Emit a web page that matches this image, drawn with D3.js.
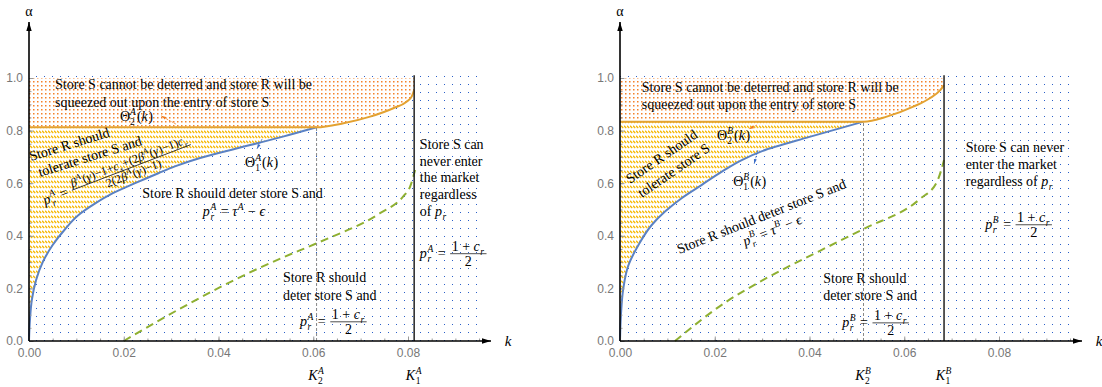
<!DOCTYPE html>
<html>
<head>
<meta charset="utf-8">
<script src="https://cdn.jsdelivr.net/npm/d3@7"></script>
<style>
  body { margin: 0; background: #fff; }
  svg { display: block; }
</style>
</head>
<body>
<div id="chart-area"></div>
<script>
// tick labels
const kTicks = [0, 0.02, 0.04, 0.06, 0.08];
const alphaTicks = [0, 0.2, 0.4, 0.6, 0.8, 1.0];

// panel A, [k, alpha] pairs
const theta1A = [[0, 0], [0.0002, 0.08], [0.0006, 0.156], [0.0015, 0.232], [0.0029, 0.30], [0.005, 0.365],
  [0.0076, 0.425], [0.0104, 0.478], [0.0139, 0.522], [0.0175, 0.56], [0.0224, 0.60], [0.0273, 0.638],
  [0.0308, 0.664], [0.0361, 0.696], [0.0467, 0.745], [0.0536, 0.777], [0.0607, 0.8125]];
const theta2A = [[0, 0.8125], [0.0607, 0.8125], [0.0664, 0.828], [0.072, 0.853], [0.0769, 0.885],
  [0.0797, 0.91], [0.0808, 0.93], [0.0813, 0.954]];
const greenA = [[0.02, 0], [0.0336, 0.14], [0.0477, 0.27], [0.0534, 0.316], [0.0613, 0.376],
  [0.074, 0.485], [0.079, 0.55], [0.0804, 0.585], [0.0815, 0.65]];
const kA = [0.0607, 0.0813]; // K2, K1

// panel B
const theta1B = [[0, 0], [0.0002, 0.099], [0.0007, 0.2], [0.0018, 0.289], [0.0039, 0.365], [0.0067, 0.441],
  [0.0095, 0.492], [0.013, 0.543], [0.0172, 0.593], [0.0215, 0.644], [0.0257, 0.688], [0.03, 0.722],
  [0.04, 0.776], [0.0514, 0.834]];
const theta2B = [[0, 0.834], [0.0514, 0.834], [0.0563, 0.853], [0.0619, 0.891], [0.0654, 0.923],
  [0.0676, 0.954], [0.0684, 0.973]];
const greenB = [[0.0116, 0], [0.0225, 0.15], [0.0296, 0.226], [0.0422, 0.343], [0.0514, 0.426],
  [0.0633, 0.54], [0.0669, 0.605], [0.0684, 0.688]];
const kB = [0.0514, 0.0684];

const W = 1102, H = 387;
const svg = d3.select("#chart-area").append("svg")
  .attr("width", W).attr("height", H)
  .style("font-family", "'Liberation Serif', 'Times New Roman', serif");

const defs = svg.append("defs");

// dotted / hatched fills
let p = defs.append("pattern").attr("id", "dotsBlue").attr("patternUnits", "userSpaceOnUse")
  .attr("width", 8).attr("height", 8);
p.append("rect").attr("x", 4).attr("y", 4).attr("width", 1).attr("height", 1).attr("fill", "#2a5fc9");

p = defs.append("pattern").attr("id", "dotsOrange").attr("patternUnits", "userSpaceOnUse")
  .attr("width", 4).attr("height", 4);
p.append("rect").attr("width", 4).attr("height", 4).attr("fill", "#fff");
p.append("rect").attr("x", 1).attr("y", 1).attr("width", 1.5).attr("height", 1.5).attr("fill", "#f4822a");

p = defs.append("pattern").attr("id", "hatchYellow").attr("patternUnits", "userSpaceOnUse")
  .attr("width", 3).attr("height", 5);
p.append("rect").attr("width", 3).attr("height", 5).attr("fill", "#fff");
p.append("path").attr("d", "M0,0.8L2.2,3").attr("stroke", "#f6b700").attr("stroke-width", 1.3);

function marker(id, color, w, h) {
  defs.append("marker").attr("id", id).attr("viewBox", "0 0 10 6")
    .attr("refX", 10).attr("refY", 3).attr("markerWidth", w).attr("markerHeight", h)
    .attr("markerUnits", "userSpaceOnUse").attr("orient", "auto")
    .append("path").attr("d", "M0,0L10,3L0,6z").attr("fill", color);
}
marker("axArrow", "#000", 9, 5.4);
marker("arrO", "#f07a1c", 5, 3.5);
marker("arrB", "#3f6fc7", 5, 3.5);

// ---- little math typesetter: lays pieces left to right, returns width
function put(g, str, x, y, size, italic) {
  const t = g.append("text").attr("x", x).attr("y", y)
    .style("font-size", size + "px")
    .style("font-style", italic ? "italic" : "normal")
    .text(str);
  return t.node().getComputedTextLength();
}

function row(g, parts, size) {
  let x = 0;
  parts.forEach(d => {
    if (typeof d === "string") {
      x += put(g, d, x, 0, size, false);
    } else if (d.i) {
      x += put(g, d.i, x, 0, size, true) + size * 0.04;
    } else if (d.num) {
      const fs = d.fs || size;
      const gn = g.append("g"), gd = g.append("g");
      const wn = row(gn, d.num, fs), wd = row(gd, d.den, fs);
      const w = Math.max(wn, wd) + 3;
      const ax = -size * 0.3;
      gn.attr("transform", `translate(${x + 1 + (w - wn) / 2},${ax - fs * 0.22})`);
      gd.attr("transform", `translate(${x + 1 + (w - wd) / 2},${ax + fs * 0.85})`);
      g.append("line").attr("x1", x + 1).attr("x2", x + 1 + w).attr("y1", ax).attr("y2", ax)
        .attr("stroke", "#222").attr("stroke-width", 0.8);
      x += w + 3;
    } else {
      const s = size * 0.68;
      const w1 = d.sub ? put(g, d.sub, x, size * 0.3, s, /[A-Za-z]/.test(d.sub)) : 0;
      const w2 = d.sup ? put(g, d.sup, x, -size * 0.42, s, /[A-Za-z]/.test(d.sup)) : 0;
      x += Math.max(w1, w2) + 1;
    }
  });
  return x;
}

function math(parent, x, y, parts, size, anchor, rot) {
  const g = parent.append("g").attr("transform", `translate(${x},${y}) rotate(${rot || 0})`);
  const inner = g.append("g");
  const w = row(inner, parts, size);
  if (anchor === "middle") inner.attr("transform", `translate(${-w / 2},0)`);
  return g;
}

function lines(parent, x, y, arr, size, dy, rot) {
  arr.forEach((s, i) => {
    parent.append("text")
      .attr("transform", `translate(${x},${y + i * dy}) rotate(${rot || 0})`)
      .style("font-size", size + "px").text(s);
  });
}

const NB = "\u00a0";
const pr = tag => [{ i: "p" }, { sub: "r", sup: tag }];
const half = { num: ["1" + NB + "+" + NB, { i: "c" }, { sub: "r" }], den: ["2"], fs: 14 };

// ---- one panel
function panel(x0, tag, th1, th2, grn, ks) {
  const [k2, k1] = ks;
  const lvl = th2[0][1];
  const x = d3.scaleLinear().domain([0, 0.08]).range([x0, x0 + 379]);
  const y = d3.scaleLinear().domain([0, 1]).range([341, 78]);
  const g = svg.append("g");
  const kEnd = 0.095;

  // blue dots everywhere in the plot
  g.append("rect")
    .attr("x", x(0)).attr("y", y(1.008))
    .attr("width", x(kEnd) - x(0)).attr("height", y(0) - y(1.008))
    .attr("fill", "url(#dotsBlue)");

  // yellow hatch: left of theta1, below the theta2 level
  g.append("path").datum(th1)
    .attr("d", d3.area().y(d => y(d[1])).x0(x(0)).x1(d => x(d[0])).curve(d3.curveMonotoneY))
    .attr("fill", "url(#hatchYellow)");

  // orange dots above theta2
  g.append("path").datum(th2)
    .attr("d", d3.area().x(d => x(d[0])).y0(d => y(d[1])).y1(y(1)).curve(d3.curveMonotoneX))
    .attr("fill", "url(#dotsOrange)");

  const lineX = d3.line().x(d => x(d[0])).y(d => y(d[1])).curve(d3.curveMonotoneX);
  const lineY = d3.line().x(d => x(d[0])).y(d => y(d[1])).curve(d3.curveMonotoneY);

  g.append("path").datum(grn).attr("d", lineX)
    .attr("fill", "none").attr("stroke", "#8fb032").attr("stroke-width", 2)
    .attr("stroke-dasharray", "8,5");

  g.append("path").datum(th1).attr("d", lineY)
    .attr("fill", "none").attr("stroke", "#5b82c4").attr("stroke-width", 2);

  g.append("path").datum(th2).attr("d", lineX)
    .attr("fill", "none").attr("stroke", "#e3a232").attr("stroke-width", 2);

  // K2 grey dashed, K1 black
  g.append("line").attr("x1", x(k2)).attr("x2", x(k2)).attr("y1", y(0)).attr("y2", y(lvl))
    .attr("stroke", "#888").attr("stroke-width", 1).attr("stroke-dasharray", "3,2");
  g.append("line").attr("x1", x(k1)).attr("x2", x(k1)).attr("y1", y(0)).attr("y2", y(1.01))
    .attr("stroke", "#222").attr("stroke-width", 1.5);

  // axes
  const styleAxis = a => {
    a.select(".domain").remove();
    a.selectAll("line").attr("stroke", "#999");
    a.selectAll("text").attr("fill", "#777")
      .style("font-family", "'Liberation Sans', Arial, sans-serif").style("font-size", "12px");
  };
  g.append("g").attr("transform", `translate(0,${y(0)})`)
    .call(d3.axisBottom(x).tickValues(d3.range(0, 0.0951, 0.005)).tickSize(-2.5).tickFormat(""))
    .call(styleAxis);
  g.append("g").attr("transform", `translate(0,${y(0)})`)
    .call(d3.axisBottom(x).tickValues(kTicks).tickSize(-4.5).tickPadding(7).tickFormat(d3.format(".2f")))
    .call(styleAxis);
  g.append("g").attr("transform", `translate(${x(0)},0)`)
    .call(d3.axisLeft(y).tickValues(d3.range(0, 1.001, 0.05)).tickSize(-2.5).tickFormat(""))
    .call(styleAxis);
  g.append("g").attr("transform", `translate(${x(0)},0)`)
    .call(d3.axisLeft(y).tickValues(alphaTicks).tickSize(-4.5).tickPadding(6).tickFormat(d3.format(".1f")))
    .call(styleAxis);

  g.append("line").attr("x1", x(0)).attr("x2", x(0) + 462).attr("y1", y(0)).attr("y2", y(0))
    .attr("stroke", "#000").attr("stroke-width", 1.6).attr("marker-end", "url(#axArrow)");
  g.append("line").attr("x1", x(0)).attr("x2", x(0)).attr("y1", y(0)).attr("y2", 22)
    .attr("stroke", "#000").attr("stroke-width", 1.6).attr("marker-end", "url(#axArrow)");

  g.append("text").attr("x", x(0)).attr("y", 16).attr("text-anchor", "middle")
    .style("font-size", "14px").text("α");
  g.append("text").attr("x", x(0) + 479).attr("y", y(0) + 5).attr("text-anchor", "middle")
    .style("font-size", "15px").style("font-style", "italic").text("k");

  math(g, x(k2), y(0) + 39, [{ i: "K" }, { sub: "2", sup: tag }], 14, "middle");
  math(g, x(k1), y(0) + 39, [{ i: "K" }, { sub: "1", sup: tag }], 14, "middle");

  return { g, x, y };
}

// ---------- panel A
{
  const { g, x, y } = panel(29, "A", theta1A, theta2A, greenA, kA);
  lines(g, x(0.0055), y(0.957), ["Store S cannot be deterred and store R will be",
    "squeezed out upon the entry of store S"], 14, 17.5);
  math(g, x(0.0192), y(0.837), ["Θ", { sub: "2", sup: "A" }, "(", { i: "k" }, ")"], 14);
  g.append("line").attr("x1", x(0.031)).attr("y1", y(0.825)).attr("x2", x(0.0279)).attr("y2", y(0.856))
    .attr("stroke", "#f07a1c").attr("stroke-width", 0.8).attr("stroke-dasharray", "2,1")
    .attr("marker-end", "url(#arrO)");
  math(g, x(0.0456), y(0.662), ["Θ", { sub: "1", sup: "A" }, "(", { i: "k" }, ")"], 14);
  g.append("line").attr("x1", x(0.0492)).attr("y1", y(0.768)).attr("x2", x(0.0481)).attr("y2", y(0.73))
    .attr("stroke", "#3f6fc7").attr("stroke-width", 0.8).attr("stroke-dasharray", "2,1")
    .attr("marker-end", "url(#arrB)");

  lines(g, x(0.0004), y(0.684), ["Store R should"], 14, 0, -17.3);
  lines(g, x(0.0023), y(0.624), ["tolerate store S and"], 14, 0, -17.3);
  math(g, x(0.0034), y(0.517), [...pr("A"), NB + "=" + NB, {
    num: [{ i: "β" }, { sup: "A" }, "(", { i: "γ" }, ")−1+", { i: "c" }, { sub: "s" }, "+(2",
      { i: "β" }, { sup: "A" }, "(", { i: "γ" }, ")−1)", { i: "c" }, { sub: "r" }],
    den: ["2(2", { i: "β" }, { sup: "A" }, "(", { i: "γ" }, ")−1)"], fs: 12
  }], 14, "start", -21);

  lines(g, x(0.0239), y(0.544), ["Store R should deter store S and"], 14, 0);
  math(g, x(0.0367), y(0.475), [...pr("A"), NB + "=" + NB, { i: "τ" }, { sup: "A" }, NB + "−" + NB, { i: "ϵ" }], 14);

  lines(g, x(0.0825), y(0.73), ["Store S can", "never enter", "the market", "regardless"], 14, 16.7);
  math(g, x(0.0825), y(0.475), ["of" + NB, ...pr("")], 14);
  math(g, x(0.0825), y(0.316), [...pr("A"), NB + "=" + NB, half], 14);

  lines(g, x(0.0536), y(0.224), ["Store R should", "deter store S and"], 14, 18);
  math(g, x(0.0572), y(0.057), [...pr("A"), NB + "=" + NB, half], 14);
}

// ---------- panel B
{
  const { g, x, y } = panel(620, "B", theta1B, theta2B, greenB, kB);
  lines(g, x(0.0046), y(0.945), ["Store S cannot be deterred and store R will be",
    "squeezed out upon the entry of store S"], 14, 16.5);
  math(g, x(0.0205), y(0.764), ["Θ", { sub: "2", sup: "B" }, "(", { i: "k" }, ")"], 14);
  g.append("line").attr("x1", x(0.0289)).attr("y1", y(0.821)).attr("x2", x(0.0272)).attr("y2", y(0.806))
    .attr("stroke", "#f07a1c").attr("stroke-width", 0.8).attr("stroke-dasharray", "2,1")
    .attr("marker-end", "url(#arrO)");
  math(g, x(0.0239), y(0.589), ["Θ", { sub: "1", sup: "B" }, "(", { i: "k" }, ")"], 14);
  g.append("line").attr("x1", x(0.0291)).attr("y1", y(0.726)).attr("x2", x(0.0283)).attr("y2", y(0.673))
    .attr("stroke", "#3f6fc7").attr("stroke-width", 0.8).attr("stroke-dasharray", "2,1")
    .attr("marker-end", "url(#arrB)");

  lines(g, x(0.0021), y(0.597), ["Store R should"], 14, 0, -34.5);
  lines(g, x(0.0046), y(0.544), ["tolerate store S"], 14, 0, -34.5);

  lines(g, x(0.0125), y(0.331), ["Store R should deter store S and"], 14, 0, -21.6);
  math(g, x(0.0264), y(0.361), [...pr("B"), NB + "=" + NB, { i: "τ" }, { sup: "B" }, NB + "−" + NB, { i: "ϵ" }], 14, "start", -21.6);

  lines(g, x(0.073), y(0.719), ["Store S can never", "enter the market"], 14, 16.8);
  math(g, x(0.073), y(0.589), ["regardless of" + NB, ...pr("")], 14);
  math(g, x(0.0771), y(0.426), [...pr("B"), NB + "=" + NB, half], 14);

  lines(g, x(0.0429), y(0.221), ["Store R should", "deter store S and"], 14, 17.5);
  math(g, x(0.0469), y(0.053), [...pr("B"), NB + "=" + NB, half], 14);
}
</script>
</body>
</html>
